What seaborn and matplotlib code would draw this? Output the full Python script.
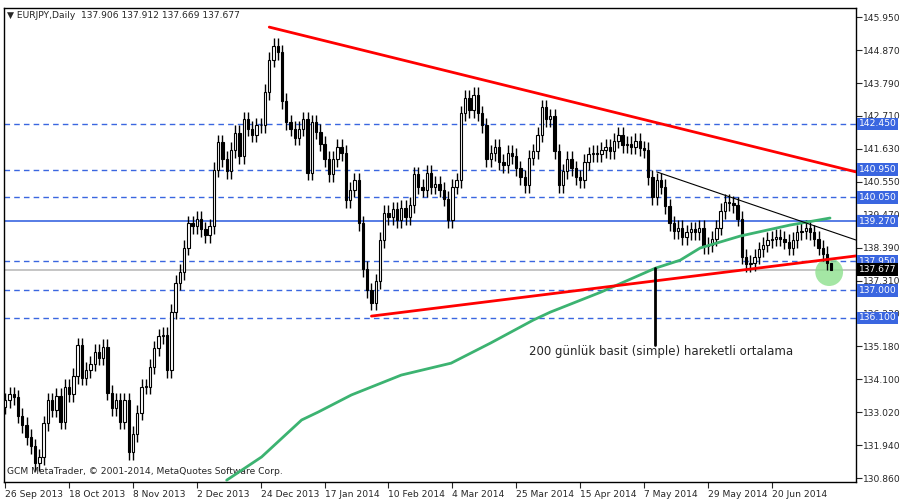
import numpy as np
import pandas as pd
import matplotlib
matplotlib.use("Agg")
import matplotlib.pyplot as plt
import seaborn as sns

# daily closes EURJPY (26 Sep 2013 .. early Jul 2014)
closes = [
    133.4, 133.6, 133.5, 132.9, 132.6, 132.2, 131.9, 131.35, 131.55, 132.65,
    133.4, 133.1, 133.55, 132.7, 133.85, 133.6, 134.2, 135.2, 134.15, 134.4,
    134.6, 135.0, 134.8, 135.15, 133.65, 133.15, 133.4, 132.7, 133.4, 131.7,
    132.3, 133.0, 133.85, 133.85, 134.5, 135.1, 135.5, 135.55, 134.4, 136.3,
    137.25, 137.6, 138.4, 139.2, 139.1, 139.35, 139.0, 138.8, 139.1, 140.95,
    141.85, 141.3, 140.9, 141.6, 142.15, 141.4, 142.6, 142.3, 142.1, 142.4,
    142.4, 143.5, 144.55, 145.0, 144.8, 143.2, 142.5, 142.3, 142.0, 142.3,
    142.6, 140.85, 142.5, 142.2, 141.8, 141.3, 140.8, 141.3, 141.7, 141.5,
    139.95, 140.3, 140.6, 139.2, 137.7, 137.0, 136.6, 137.3, 138.65, 139.55,
    139.4, 139.65, 139.3, 139.7, 139.4, 139.8, 140.8, 140.4, 140.3, 140.85,
    140.4, 140.5, 140.3, 140.0, 139.3, 140.4, 140.6, 142.8, 143.3, 142.9,
    143.4, 142.8, 142.4, 141.3, 141.5, 141.7, 141.2, 141.1, 141.5, 141.4,
    141.0, 140.7, 140.45, 141.35, 141.55, 142.1, 143.0, 142.6, 142.7, 141.55,
    140.45, 140.9, 141.3, 141.0, 140.7, 140.6, 141.2, 141.45, 141.5, 141.45,
    141.6, 141.7, 141.55, 141.9, 142.1, 141.75, 141.8, 141.7, 141.9, 141.65,
    141.6, 140.7, 140.05, 140.6, 140.4, 139.75, 139.2, 138.95, 139.05, 138.75,
    138.9, 139.0, 138.9, 139.05, 138.45, 138.5, 138.7, 139.05, 139.6, 139.9,
    139.85, 139.8, 139.35, 138.1, 137.85, 137.9, 138.1, 138.35, 138.5, 138.65,
    138.7, 138.75, 138.7, 138.6, 138.4, 138.65, 138.9, 138.95, 139.05, 138.9,
    138.7, 138.4, 138.2, 137.906, 137.677,
]
first_open = 133.2
wick = 0.25

# 200-day SMA, read at points along the line (bar index, price)
ma_idx = [52, 60.2, 69.6, 73.5, 81.3, 93, 104.7, 114, 124, 128, 139.8, 152.7, 158.5, 163.2, 172.6, 184.3, 193.7]
ma_val = [130.79, 131.55, 132.76, 133.02, 133.58, 134.23, 134.62, 135.28, 136.03, 136.29, 136.94,
          137.73, 137.99, 138.39, 138.78, 139.14, 139.37]

# drawn trendlines (bar index, price)
upper_red = ([62, 199.8], [145.62, 140.88])
lower_red = ([86, 199.8], [136.16, 138.13])
black_line = ([153, 199.8], [140.88, 138.65])

dashed_levels = [142.45, 140.95, 140.05, 137.95, 137.0, 136.1]
solid_level = 139.27
last_price = 137.677

tick_prices = [145.950, 144.870, 143.790, 142.710, 141.630, 140.550, 139.470, 138.390,
               137.310, 136.230, 135.180, 134.100, 133.020, 131.940, 130.860]
date_idx = [0, 15, 30, 45, 60, 75, 90, 105, 120, 135, 150, 165, 180]
date_labels = ["26 Sep 2013", "18 Oct 2013", "8 Nov 2013", "2 Dec 2013", "24 Dec 2013",
               "17 Jan 2014", "10 Feb 2014", "4 Mar 2014", "25 Mar 2014", "15 Apr 2014",
               "7 May 2014", "29 May 2014", "20 Jun 2014"]

sns.set_style("white")
plt.rcParams['font.family'] = ['DejaVu Sans']
fs = 6.6

W, H = 900, 500
fig = plt.figure(figsize=(9, 5), dpi=100)
L, R, T, B = 4, 856, 8, 482
ax = fig.add_axes([L / W, 1 - B / H, (R - L) / W, (B - T) / H])
ax.set_xlim(-0.3, 199.8)
ax.set_ylim(130.73, 146.245)

df = pd.DataFrame({"c": closes})
df["o"] = [first_open] + closes[:-1]
df["h"] = df[["o", "c"]].max(axis=1) + wick
df["l"] = df[["o", "c"]].min(axis=1) - wick
df.loc[df.index[-1], ["h", "l"]] = [137.912, 137.669]
x = np.arange(len(df))

# levels
for lv in dashed_levels:
    ax.axhline(lv, color="#3a66e0", lw=1, ls=(0, (4, 3)), zorder=1)
ax.axhline(solid_level, color="#3a66e0", lw=1.2, zorder=1)
ax.axhline(last_price, color="#bbbbbb", lw=1.2, zorder=1)

# candles
ax.vlines(x, df["l"], df["h"], color="black", lw=1, zorder=3)
up = df["c"] >= df["o"]
ax.bar(x, (df["c"] - df["o"]).abs().clip(lower=0.03), bottom=df[["o", "c"]].min(axis=1),
       width=0.55, color=np.where(up, "white", "black"), edgecolor="black", lw=0.8, zorder=4)

# moving average
sns.lineplot(x=ma_idx, y=ma_val, ax=ax, color="#3cb371", lw=2, zorder=5)

ax.plot(*upper_red, color="red", lw=2, zorder=6)
ax.plot(*lower_red, color="red", lw=2, zorder=6)
ax.plot(*black_line, color="black", lw=0.8, zorder=6)
ax.plot([152.5, 152.5], [137.73, 135.2], color="black", lw=2, zorder=6)
ax.scatter([193.5], [137.6], s=400, color="#8ee08e", alpha=0.8, zorder=2, edgecolors="none")
ax.text(123, 135.0, "200 günlük basit (simple) hareketli ortalama", fontsize=8.5, va="center")

ax.text(0.003, 0.993, "▼ EURJPY,Daily  137.906 137.912 137.669 137.677", transform=ax.transAxes,
        fontsize=fs, va="top")
ax.text(0.003, 0.012, "GCM MetaTrader, © 2001-2014, MetaQuotes Software Corp.",
        transform=ax.transAxes, fontsize=fs, va="bottom")

# right price axis
ax.yaxis.tick_right()
ax.set_yticks(tick_prices)
ax.set_yticklabels([f"{p:.3f}" for p in tick_prices], fontsize=fs)
ax.tick_params(axis="y", length=4, pad=1, direction="out", right=True)
for lv in dashed_levels + [solid_level]:
    ax.text(1.003, lv, f"{lv:.3f}", transform=ax.get_yaxis_transform(), fontsize=fs,
            color="white", va="center", ha="left",
            bbox=dict(boxstyle="square,pad=0.2", fc="#3a66e0", ec="none"))
ax.text(1.003, last_price, f"{last_price:.3f}", transform=ax.get_yaxis_transform(), fontsize=fs,
        color="white", va="center", ha="left",
        bbox=dict(boxstyle="square,pad=0.2", fc="black", ec="none"))

ax.set_xticks(date_idx)
ax.set_xticklabels(date_labels, fontsize=fs, ha="left")
ax.tick_params(axis="x", length=4, pad=2, direction="out", bottom=True)
for s in ax.spines.values():
    s.set_color("black")
    s.set_linewidth(1)

fig.savefig("out.png", dpi=100)
